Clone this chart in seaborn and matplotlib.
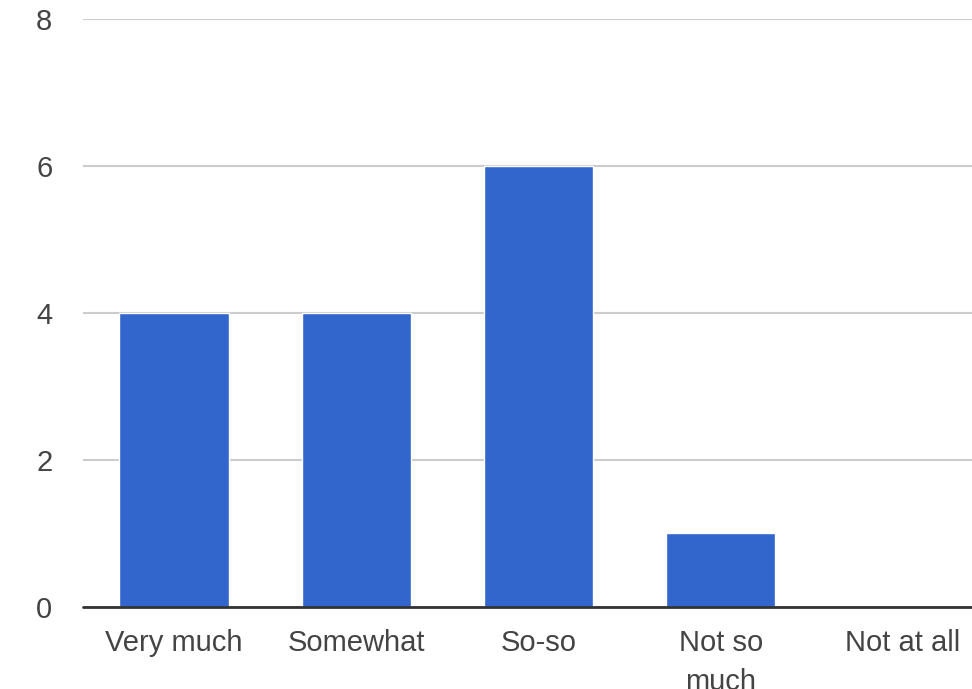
import matplotlib
matplotlib.use("Agg")
import matplotlib.pyplot as plt
import seaborn as sns
import pandas as pd

categories = ["Very much", "Somewhat", "So-so", "Not so\nmuch", "Not at all"]
values = [4, 4, 6, 1, 0]
y_ticks = [0, 2, 4, 6, 8]

sns.set_style("white")
plt.rcParams['font.family'] = ['Liberation Sans', 'DejaVu Sans']

df = pd.DataFrame({"category": categories, "value": values})

fig = plt.figure(figsize=(9.72, 6.89), dpi=100)
ax = fig.add_axes([83 / 972, 82.5 / 689, (994 - 83) / 972, (606.5 - 19) / 689])

sns.barplot(data=df, x="category", y="value", color="#3366CC", width=0.6,
            saturation=1, ax=ax, zorder=3)

ax.set_ylim(0, 8)
ax.set_xlim(-0.5, 4.5)
ax.set_yticks(y_ticks)
ax.set_yticklabels([str(t) for t in y_ticks])
ax.grid(axis="y", color="#cccccc", linewidth=1.5, zorder=0)
ax.set_axisbelow(True)
for s in ["top", "right", "left", "bottom"]:
    ax.spines[s].set_visible(False)
ax.axhline(0, color="#333333", linewidth=2, zorder=4, clip_on=False)
ax.set_xlabel("")
ax.set_ylabel("")
ax.tick_params(axis="both", length=0, labelsize=21, labelcolor="#444444")
ax.tick_params(axis="x", pad=16)
ax.tick_params(axis="y", pad=22)
for lbl in ax.get_xticklabels():
    lbl.set_linespacing(1.5)
    lbl.set_verticalalignment("top")

fig.savefig("out.png", dpi=100)
